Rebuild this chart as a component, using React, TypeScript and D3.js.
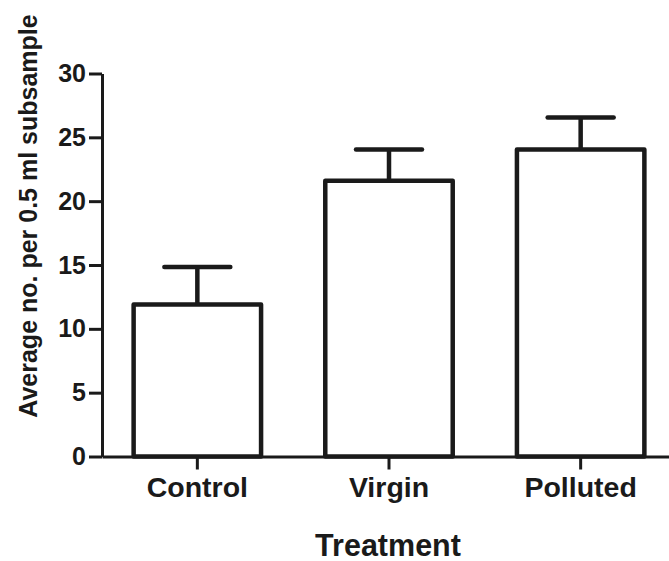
import React, { useEffect, useRef } from "react";
import * as d3 from "d3";

const categories = ["Control", "Virgin", "Polluted"];
const means = [11.9, 21.6, 24.05];
const errors = [2.95, 2.45, 2.5];
const yTicks = [0, 5, 10, 15, 20, 25, 30];
const yTitle = "Average no. per 0.5 ml subsample";
const xTitle = "Treatment";

const W = 669;
const H = 561;
const INK = "#1a1a1a";
const FONT = "'Liberation Sans', Arial, sans-serif";

export default function App() {
  const ref = useRef<SVGSVGElement | null>(null);

  useEffect(() => {
    const svg = d3.select(ref.current);
    svg.selectAll("*").remove();

    const x = d3
      .scaleBand<string>()
      .domain(categories)
      .range([102, 676])
      .paddingInner(0.335)
      .paddingOuter(0.165);
    const y = d3.scaleLinear().domain([0, 30]).range([456.5, 73.5]);

    const data = categories.map((c, i) => ({ c, m: means[i], e: errors[i] }));

    // bars
    svg
      .append("g")
      .selectAll("rect")
      .data(data)
      .join("rect")
      .attr("x", (d) => x(d.c)!)
      .attr("width", x.bandwidth())
      .attr("y", (d) => y(d.m))
      .attr("height", (d) => y(0) - y(d.m))
      .attr("fill", "#fff")
      .attr("stroke", INK)
      .attr("stroke-width", 4.5)
      .attr("stroke-linejoin", "round");

    // error bars
    const eg = svg.append("g").attr("stroke", INK).attr("stroke-width", 4.5);
    eg.selectAll("line.v")
      .data(data)
      .join("line")
      .attr("class", "v")
      .attr("x1", (d) => x(d.c)! + x.bandwidth() / 2)
      .attr("x2", (d) => x(d.c)! + x.bandwidth() / 2)
      .attr("y1", (d) => y(d.m))
      .attr("y2", (d) => y(d.m + d.e));
    eg.selectAll("line.cap")
      .data(data)
      .join("line")
      .attr("class", "cap")
      .attr("stroke-linecap", "round")
      .attr("x1", (d) => x(d.c)! + x.bandwidth() / 2 - 33)
      .attr("x2", (d) => x(d.c)! + x.bandwidth() / 2 + 33)
      .attr("y1", (d) => y(d.m + d.e))
      .attr("y2", (d) => y(d.m + d.e));

    // y axis
    const ya = svg
      .append("g")
      .attr("transform", "translate(102,0)")
      .call(
        d3
          .axisLeft(y)
          .tickValues(yTicks)
          .tickSize(13)
          .tickSizeOuter(0)
          .tickPadding(3)
      );
    ya.select(".domain").attr("stroke", INK).attr("stroke-width", 3);
    ya.selectAll(".tick line").attr("stroke", INK).attr("stroke-width", 3);
    ya.selectAll(".tick text")
      .attr("fill", INK)
      .style("font-family", FONT)
      .style("font-weight", "bold")
      .style("font-size", "25px");

    // x axis
    const xa = svg
      .append("g")
      .attr("transform", `translate(0,${y(0)})`)
      .call(d3.axisBottom(x).tickSize(13).tickSizeOuter(0).tickPadding(7));
    xa.select(".domain").attr("stroke", INK).attr("stroke-width", 3);
    xa.selectAll(".tick line").attr("stroke", INK).attr("stroke-width", 3);
    xa.selectAll(".tick text")
      .attr("fill", INK)
      .style("font-family", FONT)
      .style("font-weight", "bold")
      .style("font-size", "28.5px");

    // titles
    svg
      .append("text")
      .attr("x", 388)
      .attr("y", 556)
      .attr("text-anchor", "middle")
      .attr("fill", INK)
      .style("font-family", FONT)
      .style("font-weight", "bold")
      .style("font-size", "30.5px")
      .text(xTitle);

    svg
      .append("text")
      .attr("transform", "translate(37,216) rotate(-90)")
      .attr("text-anchor", "middle")
      .attr("fill", INK)
      .style("font-family", FONT)
      .style("font-weight", "bold")
      .style("font-size", "25px")
      .text(yTitle);
  }, []);

  return (
    <svg
      ref={ref}
      width={W}
      height={H}
      style={{ position: "absolute", left: 0, top: 0, background: "#fff" }}
    />
  );
}
